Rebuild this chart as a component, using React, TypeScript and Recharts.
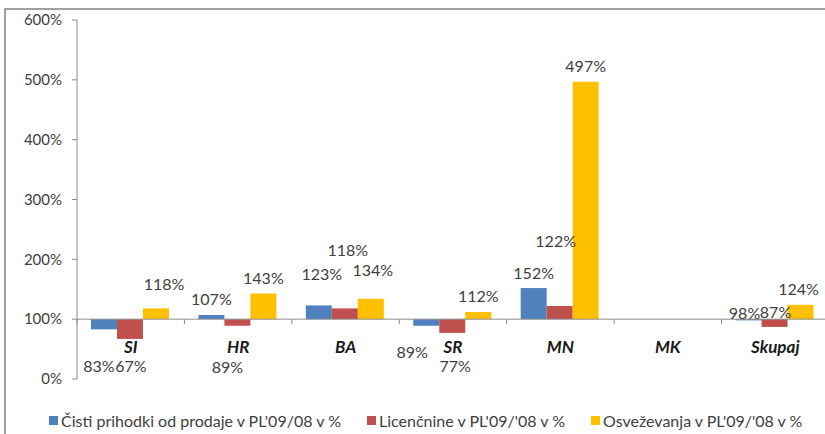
import { BarChart, Bar, XAxis, YAxis, ReferenceLine, LabelList } from "recharts"

const categories = ["SI", "HR", "BA", "SR", "MN", "MK", "Skupaj"]
const cistiPrihodki = [83, 107, 123, 89, 152, null, 98]
const licencnine = [67, 89, 118, 77, 122, null, 87]
const osvezevanja = [118, 143, 134, 112, 497, null, 124]
const yTicks = [0, 100, 200, 300, 400, 500, 600]

const seriesNames = [
  "Čisti prihodki od prodaje v PL'09/08 v %",
  "Licenčnine v PL'09/'08 v %",
  "Osveževanja v PL'09/'08 v %",
]
const colors = ["#4F81BD", "#C0504D", "#FFC000"]

// bars hang off the 100% line, so store the offset from 100
const data = categories.map((cat, i) => ({
  cat,
  blue: cistiPrihodki[i] == null ? null : cistiPrihodki[i]! - 100,
  red: licencnine[i] == null ? null : licencnine[i]! - 100,
  yellow: osvezevanja[i] == null ? null : osvezevanja[i]! - 100,
}))

const CHART_W = 840
const CHART_H = 434
const X_AXIS_H = 30
const MARGIN = { top: 20, right: 11, left: 5, bottom: 55 - X_AXIS_H }
const Y_AXIS_W = 72
const PLOT_LEFT = MARGIN.left + Y_AXIS_W
const PLOT_H = CHART_H - MARGIN.top - MARGIN.bottom - X_AXIS_H
const PLOT_W = CHART_W - MARGIN.left - MARGIN.right - Y_AXIS_W
const Y100 = MARGIN.top + PLOT_H * (5 / 6)
const BAND = PLOT_W / categories.length

const FONT = "Lato, 'Open Sans', sans-serif"
const TEXT = "#404040"
const AXIS = "#8c8c8c"

// hand-placed labels in the original
const nudges: Record<string, [number, number]> = {
  "blue:SI": [-5, 20],
  "blue:BA": [3, -16],
  "blue:SR": [-14, 10],
  "blue:Skupaj": [-4, -24],
  "red:SI": [1, 11],
  "red:HR": [-10, 25],
  "red:BA": [3, -43],
  "red:SR": [3, 17],
  "red:MN": [-4, -50],
  "red:Skupaj": [1, -31],
  "yellow:SI": [8, -9],
  "yellow:BA": [2, -13],
  "yellow:Skupaj": [-2, 0],
}

function makeLabel(key: string) {
  return (props: any) => {
    const { x, y, width, height, value } = props
    if (value == null) return null
    const cx = x + width / 2
    // LabelList skips empty entries, so find the category from the bar position
    const cat = categories[Math.floor((cx - PLOT_LEFT) / BAND)]
    const top = Math.min(y, y + height)
    const bottom = Math.max(y, y + height)
    const [dx, dy] = nudges[`${key}:${cat}`] || [0, 0]
    const cy = value >= 0 ? top - 16 : bottom + 16
    return (
      <text
        x={cx + dx}
        y={cy + dy}
        textAnchor="middle"
        dominantBaseline="central"
        fontSize={16}
        fontFamily={FONT}
        fill={TEXT}
      >
        {value + 100}%
      </text>
    )
  }
}

function CategoryTick(props: any) {
  const { x, payload, index } = props
  const left = x - BAND / 2
  return (
    <g>
      <line x1={left} x2={left} y1={Y100} y2={Y100 + 5} stroke={AXIS} />
      {index === categories.length - 1 && (
        <line x1={x + BAND / 2} x2={x + BAND / 2} y1={Y100} y2={Y100 + 5} stroke={AXIS} />
      )}
      <text
        x={x}
        y={Y100 + 27}
        textAnchor="middle"
        dominantBaseline="central"
        fontSize={17}
        fontWeight="bold"
        fontStyle="italic"
        fontFamily={FONT}
        fill="#1a1a1a"
      >
        {payload.value}
      </text>
    </g>
  )
}

export default function App() {
  return (
    <div
      style={{
        position: "fixed",
        left: 0,
        top: 0,
        width: 825,
        height: 434,
        overflow: "hidden",
        background: "#fff",
      }}
    >
      <div
        style={{
          position: "absolute",
          left: 4,
          top: 8,
          width: 900,
          height: 500,
          border: "2px solid #a0a0a0",
        }}
      />
      <div style={{ position: "absolute", left: 0, top: 0 }}>
        <BarChart
          width={CHART_W}
          height={CHART_H}
          data={data}
          margin={MARGIN}
          barCategoryGap="13%"
          barGap={0}
        >
          <XAxis
            dataKey="cat"
            height={X_AXIS_H}
            axisLine={false}
            tickLine={false}
            interval={0}
            tick={(p: any) => <CategoryTick {...p} />}
          />
          <YAxis
            width={Y_AXIS_W}
            domain={[-100, 500]}
            ticks={yTicks.map((t) => t - 100)}
            tickFormatter={(v: number) => `${v + 100}%`}
            axisLine={{ stroke: AXIS }}
            tickLine={{ stroke: AXIS }}
            tickSize={5}
            tickMargin={10}
            tick={{ fontSize: 15, fontFamily: FONT, fill: TEXT }}
          />
          <ReferenceLine y={0} stroke={AXIS} strokeWidth={1} />
          {(["blue", "red", "yellow"] as const).map((key, i) => (
            <Bar key={key} dataKey={key} fill={colors[i]} isAnimationActive={false}>
              <LabelList dataKey={key} content={makeLabel(key)} />
            </Bar>
          ))}
        </BarChart>
      </div>
      <div
        style={{
          position: "absolute",
          left: 49,
          top: 411,
          display: "flex",
          gap: 26,
          fontFamily: FONT,
          fontSize: 16,
          color: TEXT,
          whiteSpace: "nowrap",
        }}
      >
        {seriesNames.map((name, i) => (
          <div key={name} style={{ display: "flex", alignItems: "center", gap: 3 }}>
            <span style={{ width: 9, height: 9, background: colors[i], display: "inline-block" }} />
            <span>{name}</span>
          </div>
        ))}
      </div>
    </div>
  )
}
